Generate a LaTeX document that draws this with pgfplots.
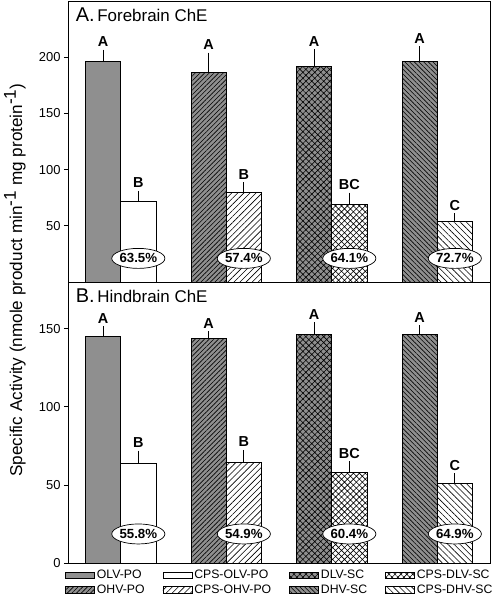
\documentclass[border=0pt]{standalone}
\usepackage{fontspec}
\setmainfont{Liberation Sans}
\usepackage{pgfplots}
\pgfplotsset{compat=1.18}
\usetikzlibrary{patterns,patterns.meta,shapes.geometric}
\definecolor{bargray}{RGB}{143,143,143}
\tikzset{
  sOLV/.style={draw=black,line width=0.7bp,fill=bargray},
  sCOLV/.style={draw=black,line width=0.7bp,fill=white},
  sOHV/.style={draw=black,line width=0.7bp,fill=bargray,postaction={pattern={Lines[angle=45,distance=3.3bp,line width=0.6bp]}}},
  sCOHV/.style={draw=black,line width=0.7bp,fill=white,postaction={pattern={Lines[angle=45,distance=4.3bp,line width=0.6bp]}}},
  sDLV/.style={draw=black,line width=0.7bp,fill=bargray,postaction={pattern={Hatch[angle=45,distance=4.2bp,line width=0.6bp]}}},
  sCDLV/.style={draw=black,line width=0.7bp,fill=white,postaction={pattern={Hatch[angle=45,distance=4.2bp,line width=0.6bp]}}},
  sDHV/.style={draw=black,line width=0.7bp,fill=bargray,postaction={pattern={Lines[angle=-45,distance=3.3bp,line width=0.6bp]}}},
  sCDHV/.style={draw=black,line width=0.7bp,fill=white,postaction={pattern={Lines[angle=-45,distance=4.3bp,line width=0.6bp]}}},
  lett/.style={anchor=base,yshift=6.5bp,font=\fontsize{14.5}{16}\selectfont\bfseries},
  pct/.style={draw=black,line width=0.7bp,fill=white,ellipse,inner sep=0pt,minimum width=49bp,minimum height=20bp,font=\fontsize{13.3}{15}\selectfont\bfseries},
}
\pgfplotsset{
  panel/.style={
    scale only axis, width=422bp, height=281bp,
    xmin=0.5, xmax=4.5, xtick=\empty,
    ybar, bar width=0.3333, bar shift=0pt,
    axis line style={line width=0.8bp},
    tick align=outside, ytick pos=left, major tick length=4bp,
    tick style={line width=0.8bp,black},
    yticklabel style={font=\fontsize{13}{15}\selectfont},
    /pgf/number format/assume math mode=true,
    error bars/y dir=plus, error bars/y explicit,
    error bars/error bar style={line width=0.8bp,black},
    error bars/error mark options={line width=0.8bp,black,mark size=3.5bp},
  },
}
\begin{document}
\begin{tikzpicture}
\useasboundingbox (0,0) rectangle (499bp,-595bp);
% ---------------- Panel A ----------------
\begin{axis}[panel, at={(68bp,-1bp)}, anchor=north west,
  ymin=0, ymax=250, ytick={50,100,150,200}]
\addplot[sOLV]  coordinates {(0.8333,196.7) +- (0,7)};
\addplot[sCOLV] coordinates {(1.1667,71.7) +- (0,6.3)};
\addplot[sOHV]  coordinates {(1.8333,186.7) +- (0,14.3)};
\addplot[sCOHV] coordinates {(2.1667,79.4) +- (0,6.2)};
\addplot[sDLV]  coordinates {(2.8333,192) +- (0,12)};
\addplot[sCDLV] coordinates {(3.1667,69) +- (0,7.4)};
\addplot[sDHV]  coordinates {(3.8333,196.2) +- (0,10.3)};
\addplot[sCDHV] coordinates {(4.1667,54) +- (0,4)};
\node[lett] at (axis cs:0.8333,203.7) {A};
\node[lett] at (axis cs:1.1667,78) {B};
\node[lett] at (axis cs:1.8333,201) {A};
\node[lett] at (axis cs:2.1667,85.6) {B};
\node[lett] at (axis cs:2.8333,204) {A};
\node[lett] at (axis cs:3.1667,76.4) {BC};
\node[lett] at (axis cs:3.8333,206.5) {A};
\node[lett] at (axis cs:4.1667,58) {C};
\node[pct] at (axis cs:1.1667,21) {63.5\%};
\node[pct] at (axis cs:2.1667,21) {57.4\%};
\node[pct] at (axis cs:3.1667,21) {64.1\%};
\node[pct] at (axis cs:4.1667,21) {72.7\%};
\node[anchor=base west,inner sep=0pt] at (rel axis cs:0.018,0.926)
  {{\fontsize{20}{22}\selectfont A.} {\fontsize{17}{19}\selectfont Forebrain ChE}};
\end{axis}
% ---------------- Panel B ----------------
\begin{axis}[panel, at={(68bp,-282bp)}, anchor=north west,
  ymin=0, ymax=180, ytick={0,50,100,150},
  legend columns=4,
  legend cell align=left,
  legend image code/.code={\draw[#1] (0bp,-3.2bp) rectangle (29bp,3.2bp);},
  legend style={at={(-0.007,-0.018)}, anchor=north west, draw=none, fill=none,
    inner sep=0pt, row sep=0.5bp,
    font=\fontsize{12.3}{14}\selectfont,
    /tikz/every even column/.append style={column sep=16bp}},
]
\addplot[sOLV,forget plot]  coordinates {(0.8333,145) +- (0,4.4)};
\addplot[sCOLV,forget plot] coordinates {(1.1667,64.1) +- (0,5.6)};
\addplot[sOHV,forget plot]  coordinates {(1.8333,143.6) +- (0,2.6)};
\addplot[sCOHV,forget plot] coordinates {(2.1667,64.5) +- (0,5.8)};
\addplot[sDLV,forget plot]  coordinates {(2.8333,146.6) +- (0,5.3)};
\addplot[sCDLV,forget plot] coordinates {(3.1667,58.1) +- (0,4.7)};
\addplot[sDHV,forget plot]  coordinates {(3.8333,146.2) +- (0,4)};
\addplot[sCDHV,forget plot] coordinates {(4.1667,51.1) +- (0,4.2)};
\addlegendimage{sOLV}\addlegendentry{OLV-PO}
\addlegendimage{sCOLV}\addlegendentry{CPS-OLV-PO}
\addlegendimage{sDLV}\addlegendentry{DLV-SC}
\addlegendimage{sCDLV}\addlegendentry{CPS-DLV-SC}
\addlegendimage{sOHV}\addlegendentry{OHV-PO}
\addlegendimage{sCOHV}\addlegendentry{CPS-OHV-PO}
\addlegendimage{sDHV}\addlegendentry{DHV-SC}
\addlegendimage{sCDHV}\addlegendentry{CPS-DHV-SC}
\node[lett] at (axis cs:0.8333,149.4) {A};
\node[lett] at (axis cs:1.1667,69.7) {B};
\node[lett] at (axis cs:1.8333,146.2) {A};
\node[lett] at (axis cs:2.1667,70.3) {B};
\node[lett] at (axis cs:2.8333,151.9) {A};
\node[lett] at (axis cs:3.1667,62.8) {BC};
\node[lett] at (axis cs:3.8333,150.2) {A};
\node[lett] at (axis cs:4.1667,55.3) {C};
\node[pct] at (axis cs:1.1667,18.6) {55.8\%};
\node[pct] at (axis cs:2.1667,18.6) {54.9\%};
\node[pct] at (axis cs:3.1667,18.6) {60.4\%};
\node[pct] at (axis cs:4.1667,18.6) {64.9\%};
\node[anchor=base west,inner sep=0pt] at (rel axis cs:0.018,0.926)
  {{\fontsize{20}{22}\selectfont B.} {\fontsize{17}{19}\selectfont Hindbrain ChE}};
\end{axis}
% shared y label
\node[rotate=90,font=\fontsize{17.2}{19}\selectfont] at (15bp,-280bp)
  {Specific Activity (nmole product min$^{\textrm{-1}}$ mg protein$^{\textrm{-1}}$)};
\end{tikzpicture}
\end{document}
